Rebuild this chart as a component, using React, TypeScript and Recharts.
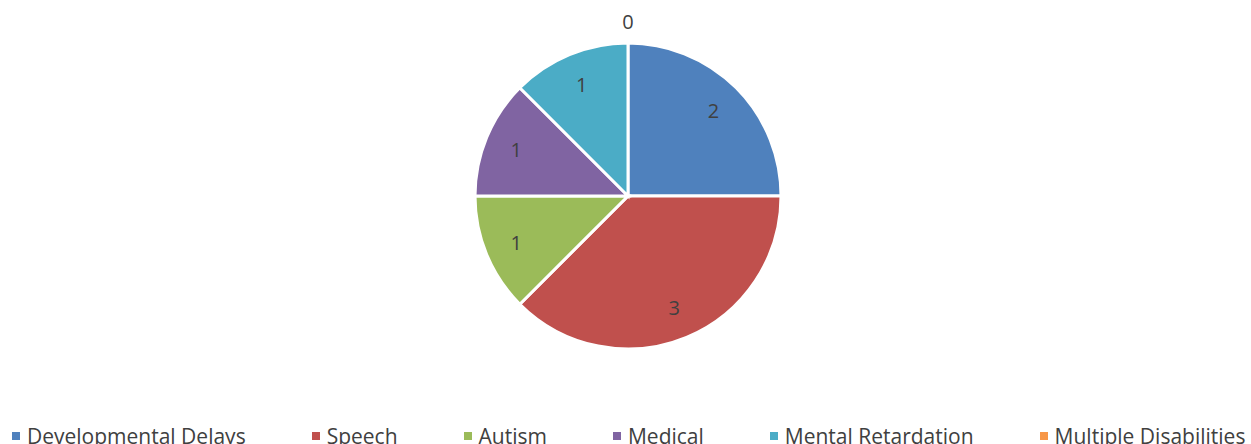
import { Cell, Pie, PieChart } from "recharts";

const categories = [
  "Developmental Delays",
  "Speech",
  "Autism",
  "Medical",
  "Mental Retardation",
  "Multiple Disabilities",
];
const counts = [2, 3, 1, 1, 1, 0];
const colors = ["#4F81BD", "#C0504D", "#9BBB59", "#8064A2", "#4BACC6", "#F79646"];

const data = categories.map((name, i) => ({ name, value: counts[i] }));

const RAD = Math.PI / 180;

function renderLabel(props: any) {
  const { cx, cy, midAngle, outerRadius, value } = props;
  const r = value === 0 ? outerRadius + 22 : outerRadius * 0.79;
  const x = cx + r * Math.cos(-midAngle * RAD);
  const y = cy + r * Math.sin(-midAngle * RAD);
  return (
    <text
      x={x}
      y={y}
      fill="#404040"
      fontSize={20}
      fontFamily="'Open Sans', sans-serif"
      textAnchor="middle"
      dominantBaseline="central"
    >
      {value}
    </text>
  );
}

export default function App() {
  return (
    <div
      style={{
        position: "absolute",
        left: 0,
        top: 0,
        width: 1251,
        height: 444,
        background: "#fff",
        overflow: "hidden",
      }}
    >
      <PieChart width={1251} height={444} margin={{ top: 0, right: 0, bottom: 0, left: 0 }}>
        <Pie
          data={data}
          dataKey="value"
          nameKey="name"
          cx={628}
          cy={196}
          outerRadius={153}
          startAngle={90}
          endAngle={-270}
          stroke="#fff"
          strokeWidth={3}
          label={renderLabel}
          labelLine={false}
          isAnimationActive={false}
        >
          {data.map((d, i) => (
            <Cell key={d.name} fill={colors[i]} />
          ))}
        </Pie>
      </PieChart>
      <div
        style={{
          position: "absolute",
          left: 12,
          top: 422,
          display: "flex",
          gap: 66,
          fontFamily: "'Open Sans', sans-serif",
          fontSize: 21,
          color: "#404040",
          whiteSpace: "nowrap",
          lineHeight: "28px",
        }}
      >
        {categories.map((c, i) => (
          <div key={c} style={{ display: "flex", alignItems: "center" }}>
            <span
              style={{
                width: 8,
                height: 8,
                background: colors[i],
                marginRight: 7,
                display: "inline-block",
              }}
            />
            <span>{c}</span>
          </div>
        ))}
      </div>
    </div>
  );
}
